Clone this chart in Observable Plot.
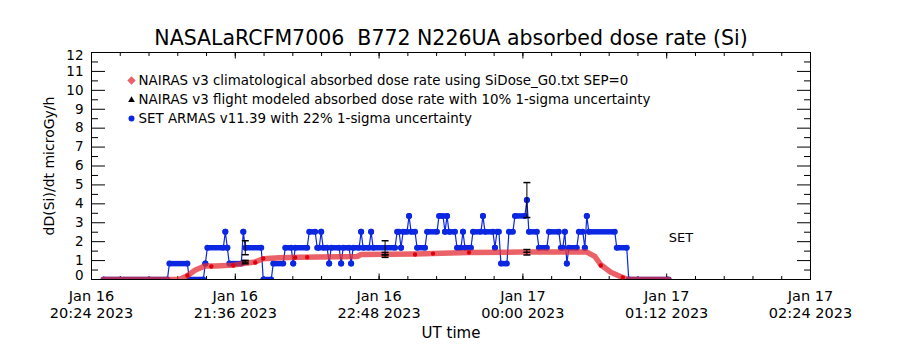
<!DOCTYPE html>
<html><head><meta charset="utf-8">
<script src="https://cdn.jsdelivr.net/npm/d3@7"></script>
<script src="https://cdn.jsdelivr.net/npm/@observablehq/plot@0.6"></script>
<style>body{margin:0;background:#fff}#chart{width:900px;height:350px}</style>
</head><body><div id="chart"></div>
<script>
// ---------- text ----------
const titleText = "NASALaRCFM7006\u00a0 B772 N226UA absorbed dose rate (Si)";
const yLabel = "dD(Si)/dt microGy/h";
const xLabel = "UT time";
const legendLabels = [
  "NAIRAS v3 climatological absorbed dose rate using SiDose_G0.txt SEP=0",
  "NAIRAS v3 flight modeled absorbed dose rate with 10% 1-sigma uncertainty",
  "SET ARMAS v11.39 with 22% 1-sigma uncertainty"
];
const setLabel = ["SET"];
const setLabelAt = ["01:13", 2.2];

// ---------- axes ----------
const xDomain = ["20:24", "02:24"];
const xTickTimes = ["20:24", "21:36", "22:48", "00:00", "01:12", "02:24"];
const xTickLabels = ["Jan 16\n20:24 2023", "Jan 16\n21:36 2023", "Jan 16\n22:48 2023",
                     "Jan 17\n00:00 2023", "Jan 17\n01:12 2023", "Jan 17\n02:24 2023"];
const yTicks = [0,1,2,3,4,5,6,7,8,9,10,11,12];

// ---------- NAIRAS climatological (band) ----------
const climT = ["20:30","21:08","21:12","21:16","21:21","21:26","21:35","21:41","21:46","21:50","21:58",
               "22:08","22:28","22:37","22:39","23:06","23:33","23:58","00:32","00:36","00:39","00:44",
               "00:50","00:53","01:13"];
const climV = [0,0,0.2,0.5,0.72,0.72,0.76,0.86,0.93,1.1,1.15,
               1.17,1.2,1.22,1.32,1.35,1.43,1.45,1.45,1.22,0.78,0.38,
               0.1,0,0];
// solid climatological markers
const climDotT = ["21:12","21:24","21:35","21:46","21:50","22:06","22:12","23:06","23:15","23:33","00:39","00:50"];
const climDotV = [0.21,0.69,0.74,0.9,1.11,1.16,1.18,1.32,1.37,1.43,0.74,0.11];

// ---------- NAIRAS flight modeled ----------
const flightT = ["21:41","22:51","00:02"];
const flightV = [0.92,1.3,1.44];
const flightUnc = 0.10;

// ---------- SET ARMAS (runs of equal samples) ----------
const armasStart = ["20:30","21:03","21:13","21:21","21:22","21:31","21:32","21:33","21:40","21:41","21:50","21:55",
  "22:01","22:05","22:06","22:13","22:17","22:19","22:20","22:23","22:24","22:29","22:30","22:34","22:35","22:39",
  "22:40","22:44","22:45","22:57","22:59","23:00","23:03","23:04","23:07","23:12","23:18","23:21","23:22","23:23",
  "23:27","23:30","23:31","23:35","23:40","23:41","23:46","23:47","23:49","23:53","23:56","00:02","00:03","00:08",
  "00:13","00:19","00:21","00:22","00:23","00:28","00:31","00:32","00:33","00:47","00:53"];
const armasEnd = ["21:02","21:12","21:20","21:21","21:30","21:31","21:32","21:39","21:40","21:49","21:54","22:00",
  "22:04","22:05","22:12","22:16","22:18","22:19","22:22","22:23","22:28","22:29","22:33","22:34","22:38","22:39",
  "22:43","22:44","22:56","22:58","22:59","23:02","23:03","23:06","23:11","23:17","23:20","23:21","23:22","23:26",
  "23:29","23:30","23:34","23:39","23:40","23:45","23:46","23:48","23:52","23:55","00:01","00:02","00:07","00:12",
  "00:18","00:20","00:21","00:22","00:27","00:30","00:31","00:32","00:46","00:52","01:13"];
const armasLevel = [0,0.84,0,0.84,1.68,2.52,1.68,0.84,2.52,1.68,0,0.84,
  1.68,0.84,1.68,2.52,1.68,2.52,1.68,0.84,1.68,0.84,1.68,0.84,1.68,2.52,
  1.68,2.52,1.68,2.52,1.68,2.52,3.36,2.52,1.68,2.52,3.36,2.52,3.36,2.52,
  1.68,2.52,1.68,2.52,3.36,2.52,1.68,2.52,0.84,2.52,3.36,4.2,2.52,1.68,
  2.52,1.68,2.52,0.84,1.68,2.52,1.68,3.36,2.52,1.68,0];
const armasErrT = ["21:41","22:51","00:02"];
const armasErrV = [1.68,1.68,4.2];
const armasUnc = 0.22;

// ---------- helpers ----------
const t = s => { const [h, m] = s.split(":").map(Number); return new Date(Date.UTC(2023, 0, h >= 12 ? 16 : 17, h, m)); };
const BLUE = "#0b27e2", RED = "#dc000c";

const clim = climT.map((s, i) => ({x: t(s), y: climV[i]}));
const climDots = climDotT.map((s, i) => ({x: t(s), y: climDotV[i]}));
const runs = armasStart.map((s, i) => ({x1: t(s), x2: t(armasEnd[i]), y: armasLevel[i]}));
const armasPts = runs.flatMap(r => [{x: r.x1, y: r.y}, {x: r.x2, y: r.y}]);
const armasErr = armasErrT.map((s, i) => ({x: t(s), y: armasErrV[i], lo: armasErrV[i] * (1 - armasUnc), hi: armasErrV[i] * (1 + armasUnc)}));
const flight = flightT.map((s, i) => ({x: t(s), y: flightV[i], lo: flightV[i] * (1 - flightUnc), hi: flightV[i] * (1 + flightUnc)}));

const cap = {draw(ctx, size) { const w = Math.sqrt(size / Math.PI); ctx.moveTo(-w, 0); ctx.lineTo(w, 0); }};

const t0 = t(xDomain[0]).getTime();
const xMajor = xTickTimes.map(t);
const xMinor = d3.range(0, 26).map(i => new Date(t0 + i * 14.4 * 60000));
const yMinor = d3.range(0.5, 12, 1);
const labelOf = new Map(xMajor.map((d, i) => [d.getTime(), xTickLabels[i]]));
const blank = () => "";

const legendMarks = legendLabels.map((s, i) =>
  Plot.text([s], {frameAnchor: "top-left", dx: 47, dy: 28 + 19 * i, textAnchor: "start", lineAnchor: "middle", fontSize: 13.4}));

const chart = Plot.plot({
  width: 900, height: 350,
  marginLeft: 91, marginRight: 90, marginTop: 52, marginBottom: 71,
  x: {type: "utc", domain: xDomain.map(t)},
  y: {domain: [0, 12]},
  style: {fontFamily: "DejaVu Sans", fontSize: "14px", color: "black", background: "white", overflow: "visible"},
  marks: [
    // inward ticks on all four sides
    Plot.axisX({anchor: "bottom", ticks: xMinor, tickSize: -3, tickFormat: blank, label: null}),
    Plot.axisX({anchor: "bottom", ticks: xMajor, tickSize: -5.5, tickFormat: blank, label: null}),
    Plot.axisX({anchor: "top", ticks: xMinor, tickSize: -3, tickFormat: blank, label: null}),
    Plot.axisX({anchor: "top", ticks: xMajor, tickSize: -5.5, tickFormat: blank, label: null}),
    Plot.axisY({anchor: "left", ticks: yTicks, tickSize: -14, tickFormat: blank, label: null}),
    Plot.axisY({anchor: "left", ticks: yMinor, tickSize: -7, tickFormat: blank, label: null}),
    Plot.axisY({anchor: "right", ticks: yTicks, tickSize: -14, tickFormat: blank, label: null}),
    Plot.axisY({anchor: "right", ticks: yMinor, tickSize: -7, tickFormat: blank, label: null}),
    // tick labels
    Plot.axisX({anchor: "bottom", ticks: xMajor, tickSize: 0, tickPadding: 10, fontSize: 14.5, lineHeight: 1.13,
      tickFormat: d => labelOf.get(d.getTime()), label: null}),
    Plot.axisY({anchor: "left", ticks: yTicks.slice(1, -1), tickSize: 0, tickPadding: 8, fontSize: 13.5, label: null}),
    Plot.axisY({anchor: "left", ticks: yTicks.slice(0, 1), tickSize: 0, tickPadding: 8, fontSize: 13.5, dy: -4, label: null}),
    Plot.axisY({anchor: "left", ticks: yTicks.slice(-1), tickSize: 0, tickPadding: 8, fontSize: 13.5, dy: 3, label: null}),
    Plot.frame({stroke: "black"}),
    // SET ARMAS
    Plot.line(armasPts, {x: "x", y: "y", stroke: BLUE, strokeWidth: 1.2, clip: true}),
    Plot.ruleY(runs, {y: "y", x1: "x1", x2: "x2", stroke: BLUE, strokeWidth: 5.5, clip: true}),
    Plot.dot(armasPts, {x: "x", y: "y", r: 3, fill: BLUE, stroke: null, clip: true}),
    // NAIRAS climatological band
    Plot.line(clim, {x: "x", y: "y", stroke: "url(#redhatch)", strokeWidth: 5.5, clip: true}),
    Plot.dot(climDots, {x: "x", y: "y", r: 2.2, fill: RED, stroke: null}),
    // error bars
    Plot.ruleX(armasErr, {x: "x", y1: "lo", y2: "hi", stroke: "black", strokeWidth: 1}),
    Plot.dot(armasErr, {x: "x", y: "lo", r: 3.5, symbol: cap, stroke: "black", fill: null}),
    Plot.dot(armasErr, {x: "x", y: "hi", r: 3.5, symbol: cap, stroke: "black", fill: null}),
    Plot.ruleX(flight, {x: "x", y1: "lo", y2: "hi", stroke: "black", strokeWidth: 1}),
    Plot.dot(flight, {x: "x", y: "lo", r: 3.5, symbol: cap, stroke: "black", fill: null}),
    Plot.dot(flight, {x: "x", y: "hi", r: 3.5, symbol: cap, stroke: "black", fill: null}),
    Plot.dot(flight, {x: "x", y: "y", r: 3.5, symbol: cap, stroke: "black", fill: null}),
    // SET annotation
    Plot.text(setLabel, {x: () => t(setLabelAt[0]), y: () => setLabelAt[1], text: d => d, textAnchor: "start", fontSize: 13}),
    // legend
    ...legendMarks,
    Plot.dot([0], {frameAnchor: "top-left", dx: 40, dy: 28, r: 3.8, symbol: "diamond2", fill: "url(#redhatch)", stroke: null}),
    Plot.dot([0], {frameAnchor: "top-left", dx: 40, dy: 47.5, r: 3.2, symbol: "triangle2", fill: "black", stroke: null}),
    Plot.dot([0], {frameAnchor: "top-left", dx: 40, dy: 66, r: 3, fill: BLUE, stroke: null}),
    // titles
    Plot.text([titleText], {frameAnchor: "top", dy: -14, lineAnchor: "middle", fontSize: 20.5}),
    Plot.text([yLabel], {frameAnchor: "left", dx: -42, rotate: -90, textAnchor: "middle", lineAnchor: "middle", fontSize: 14}),
    Plot.text([xLabel], {frameAnchor: "bottom", dy: 54, lineAnchor: "middle", fontSize: 15})
  ]
});

const ns = "http://www.w3.org/2000/svg";
const defs = document.createElementNS(ns, "defs");
defs.innerHTML = '<pattern id="redhatch" width="2" height="2" patternUnits="userSpaceOnUse">' +
  '<rect width="1" height="1" fill="' + RED + '"/><rect x="1" y="1" width="1" height="1" fill="' + RED + '"/>' +
  '<rect x="1" y="0" width="1" height="1" fill="#f08a8a"/></pattern>';
chart.insertBefore(defs, chart.firstChild);
document.getElementById("chart").appendChild(chart);
</script>
</body></html>
